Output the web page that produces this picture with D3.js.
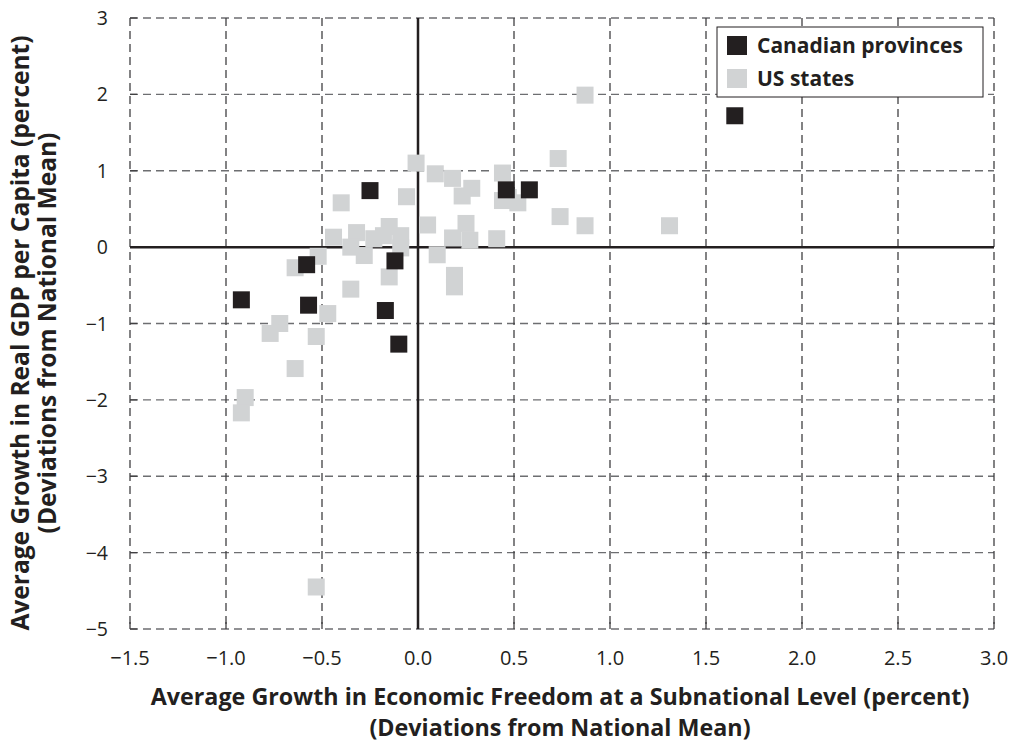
<!DOCTYPE html>
<html>
<head>
<meta charset="utf-8">
<script src="https://cdnjs.cloudflare.com/ajax/libs/d3/7.8.5/d3.min.js"></script>
<style>
    body { margin: 0; background: #fff; }
    svg { display: block; }
    text { font-family: "Open Sans", "DejaVu Sans", sans-serif; fill: #231f20; }
</style>
</head>
<body>
<div id="chart"></div>
<script>
// Canadian provinces (x: growth in economic freedom, y: growth in real GDP per capita)
var canadaX = [1.65, 0.46, 0.58, -0.25, -0.12, -0.58, -0.92, -0.57, -0.17, -0.10];
var canadaY = [1.72, 0.75, 0.75, 0.74, -0.18, -0.23, -0.69, -0.76, -0.83, -1.27];

// US states
var usX = [-0.01, 0.09, 0.18, 0.44, 0.87, 0.73, 0.28, 0.23, 0.44, 0.52, 0.74, 0.87, 1.31,
    -0.06, -0.40, 0.05, 0.25, 0.18, 0.27, 0.41, 0.10, 0.19, 0.19, -0.44, -0.32, -0.35,
    -0.28, -0.23, -0.15, -0.09, -0.09, -0.15, -0.52, -0.64, -0.35, -0.47, -0.72, -0.77,
    -0.53, -0.64, -0.90, -0.92, -0.53, -0.18, 0.47];
var usY = [1.10, 0.96, 0.90, 0.97, 1.99, 1.16, 0.77, 0.67, 0.61, 0.58, 0.40, 0.28, 0.28,
    0.66, 0.58, 0.29, 0.31, 0.12, 0.09, 0.11, -0.10, -0.37, -0.52, 0.13, 0.19, 0.00,
    -0.11, 0.11, 0.27, 0.15, -0.01, -0.39, -0.12, -0.27, -0.55, -0.87, -1.00, -1.13,
    -1.17, -1.59, -1.97, -2.17, -4.45, 0.15, 0.65];

var xTicks = [-1.5, -1.0, -0.5, 0.0, 0.5, 1.0, 1.5, 2.0, 2.5, 3.0];
var yTicks = [3, 2, 1, 0, -1, -2, -3, -4, -5];

var legendLabels = ["Canadian provinces", "US states"];
var colors = ["#231f20", "#d1d3d4"];

var width = 1012, height = 746;
var margin = { top: 18, right: 18, bottom: 117, left: 130 };

var x = d3.scaleLinear().domain([-1.5, 3.0]).range([margin.left, width - margin.right]);
var y = d3.scaleLinear().domain([-5, 3]).range([height - margin.bottom, margin.top]);

var svg = d3.select("#chart").append("svg")
    .attr("width", width)
    .attr("height", height);

// grid
svg.append("g").selectAll("line")
    .data(yTicks).enter().append("line")
    .attr("x1", x(-1.5)).attr("x2", x(3.0))
    .attr("y1", function(d) { return y(d); })
    .attr("y2", function(d) { return y(d); })
    .attr("stroke", "#6d6e71")
    .attr("stroke-width", 1.3)
    .attr("stroke-dasharray", "8,5");

svg.append("g").selectAll("line")
    .data(xTicks).enter().append("line")
    .attr("y1", y(3)).attr("y2", y(-5))
    .attr("x1", function(d) { return x(d); })
    .attr("x2", function(d) { return x(d); })
    .attr("stroke", "#414042")
    .attr("stroke-width", 1.3)
    .attr("stroke-dasharray", "8,5");

// small solid ticks on the left and bottom edges
svg.append("g").selectAll("line")
    .data(yTicks).enter().append("line")
    .attr("x1", x(-1.5)).attr("x2", x(-1.5) + 7)
    .attr("y1", function(d) { return y(d); })
    .attr("y2", function(d) { return y(d); })
    .attr("stroke", "#414042").attr("stroke-width", 1.3);
svg.append("g").selectAll("line")
    .data(xTicks).enter().append("line")
    .attr("y1", y(-5)).attr("y2", y(-5) - 7)
    .attr("x1", function(d) { return x(d); })
    .attr("x2", function(d) { return x(d); })
    .attr("stroke", "#414042").attr("stroke-width", 1.3);

// zero lines
svg.append("line")
    .attr("x1", x(-1.5)).attr("x2", x(3.0))
    .attr("y1", y(0)).attr("y2", y(0))
    .attr("stroke", "#231f20").attr("stroke-width", 2.5);
svg.append("line")
    .attr("x1", x(0)).attr("x2", x(0))
    .attr("y1", y(3)).attr("y2", y(-5))
    .attr("stroke", "#231f20").attr("stroke-width", 2.5);

// tick labels
svg.append("g").selectAll("text")
    .data(xTicks).enter().append("text")
    .attr("x", function(d) { return x(d); })
    .attr("y", y(-5) + 29)
    .attr("dy", "0.36em")
    .attr("text-anchor", "middle")
    .style("font-size", "20px")
    .text(function(d) { return d3.format(".1f")(d).replace("-", "\u2212"); });

svg.append("g").selectAll("text")
    .data(yTicks).enter().append("text")
    .attr("x", x(-1.5) - 22)
    .attr("y", function(d) { return y(d); })
    .attr("dy", "0.36em")
    .attr("text-anchor", "end")
    .style("font-size", "19.5px")
    .text(function(d) { return String(d).replace("-", "\u2212"); });

// axis titles
var xTitle = svg.append("text")
    .attr("text-anchor", "middle")
    .style("font-size", "23.3px")
    .style("font-weight", "bold");
xTitle.append("tspan").attr("x", 560).attr("y", 705)
    .text("Average Growth in Economic Freedom at a Subnational Level (percent)");
xTitle.append("tspan").attr("x", 560).attr("y", 736)
    .text("(Deviations from National Mean)");

var yTitle = svg.append("text")
    .attr("transform", "translate(0,333) rotate(-90)")
    .attr("text-anchor", "middle")
    .style("font-size", "24.5px")
    .style("font-weight", "bold");
yTitle.append("tspan").attr("x", 0).attr("y", 29)
    .text("Average Growth in Real GDP per Capita (percent)");
yTitle.append("tspan").attr("x", 0).attr("y", 56)
    .text("(Deviations from National Mean)");

// points
var sq = 17;
var usData = usX.map(function(v, i) { return [v, usY[i]]; });
var caData = canadaX.map(function(v, i) { return [v, canadaY[i]]; });

svg.append("g").selectAll("rect")
    .data(usData).enter().append("rect")
    .attr("x", function(d) { return x(d[0]) - sq / 2; })
    .attr("y", function(d) { return y(d[1]) - sq / 2; })
    .attr("width", sq).attr("height", sq)
    .attr("fill", colors[1]);

svg.append("g").selectAll("rect")
    .data(caData).enter().append("rect")
    .attr("x", function(d) { return x(d[0]) - sq / 2; })
    .attr("y", function(d) { return y(d[1]) - sq / 2; })
    .attr("width", sq).attr("height", sq)
    .attr("fill", colors[0]);

// legend
var legend = svg.append("g").attr("transform", "translate(717,27)");
legend.append("rect")
    .attr("width", 266).attr("height", 70)
    .attr("fill", "#fff")
    .attr("stroke", "#231f20").attr("stroke-width", 1);
legendLabels.forEach(function(label, i) {
    legend.append("rect")
        .attr("x", 10).attr("y", 9 + i * 33)
        .attr("width", 20).attr("height", 19)
        .attr("fill", colors[i]);
    legend.append("text")
        .attr("x", 40).attr("y", 18.5 + i * 33)
        .attr("dy", "0.36em")
        .style("font-size", "21px")
        .style("font-weight", "bold")
        .text(label);
});
</script>
</body>
</html>
